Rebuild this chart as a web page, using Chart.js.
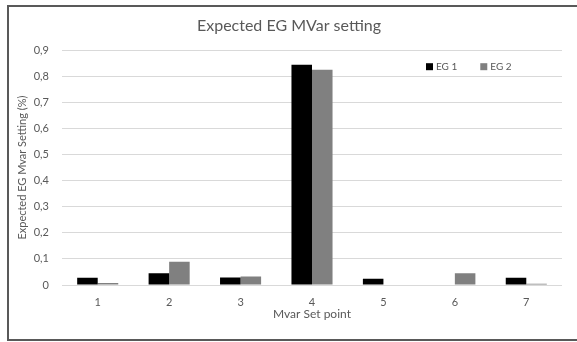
<!DOCTYPE html>
<html>
<head>
<meta charset="utf-8">
<script src="https://cdn.jsdelivr.net/npm/chart.js@4"></script>
<style>
    html, body { margin: 0; padding: 0; background: #fff; }
    #wrap { position: relative; width: 577px; height: 342px; overflow: hidden; }
    #frame {
        position: absolute; left: 7px; top: 5px; width: 600px; height: 332px;
        border: 2px solid #595959; pointer-events: none;
    }
    canvas { position: absolute; left: 0; top: 0; }
</style>
</head>
<body>
<div id="wrap">
    <canvas id="mvarChart" width="577" height="342"></canvas>
    <div id="frame"></div>
</div>
<script>
const setPoints = ['1', '2', '3', '4', '5', '6', '7'];
const eg1Values = [0.028, 0.045, 0.029, 0.844, 0.024, 0, 0.028];
const eg2Values = [0.008, 0.089, 0.033, 0.825, 0, 0.045, 0.005];
const seriesNames = ['EG 1', 'EG 2'];
const seriesColors = ['#000000', '#808080'];

const textColor = '#595959';
const fontFamily = 'Lato, "Open Sans", sans-serif';

// excel-style legend sitting inside the plot, top right
const insideLegend = {
    id: 'insideLegend',
    afterDraw(chart) {
        const ctx = chart.ctx;
        const area = chart.chartArea;
        ctx.save();
        ctx.font = '10px ' + fontFamily;
        ctx.textBaseline = 'middle';
        let x = area.right - 136;
        const y = area.top + 16;
        chart.data.datasets.forEach(ds => {
            ctx.fillStyle = ds.backgroundColor;
            ctx.fillRect(x, y - 3, 7, 7);
            ctx.fillStyle = textColor;
            ctx.fillText(ds.label, x + 10, y + 1);
            x += 10 + ctx.measureText(ds.label).width + 23;
        });
        ctx.restore();
    }
};

const ctx = document.getElementById('mvarChart').getContext('2d');
new Chart(ctx, {
    type: 'bar',
    data: {
        labels: setPoints,
        datasets: [
            { label: seriesNames[0], data: eg1Values, backgroundColor: seriesColors[0] },
            { label: seriesNames[1], data: eg2Values, backgroundColor: seriesColors[1] }
        ]
    },
    options: {
        responsive: false,
        animation: false,
        devicePixelRatio: 1,
        layout: { padding: { left: 16, right: 15, top: 6, bottom: 21 } },
        datasets: {
            bar: { categoryPercentage: 0.575, barPercentage: 1 }
        },
        plugins: {
            legend: { display: false },
            tooltip: { enabled: false },
            title: {
                display: true,
                text: 'Expected EG MVar setting',
                color: textColor,
                font: { family: fontFamily, size: 16, weight: 'normal' },
                padding: { top: 10, bottom: 15 }
            }
        },
        scales: {
            x: {
                grid: { display: false },
                border: { display: false },
                ticks: {
                    color: textColor,
                    font: { family: fontFamily, size: 11 },
                    padding: 3
                },
                title: {
                    display: true,
                    text: 'Mvar Set point',
                    color: textColor,
                    font: { family: fontFamily, size: 12 },
                    padding: { top: 2, bottom: 0 }
                },
                afterFit(scale) { scale.height = 36; }
            },
            y: {
                min: 0,
                max: 0.9,
                ticks: {
                    stepSize: 0.1,
                    color: textColor,
                    font: { family: fontFamily, size: 11 },
                    padding: 13,
                    callback: v => (Math.round(v * 10) / 10).toString().replace('.', ',')
                },
                grid: { color: '#d9d9d9', drawTicks: false },
                border: { display: false },
                title: {
                    display: true,
                    text: 'Expected EG Mvar Setting (%)',
                    color: textColor,
                    font: { family: fontFamily, size: 11 },
                    padding: { top: 0, bottom: 4 }
                },
                afterFit(scale) { scale.width = 46; }
            }
        }
    },
    plugins: [insideLegend]
});
</script>
</body>
</html>
